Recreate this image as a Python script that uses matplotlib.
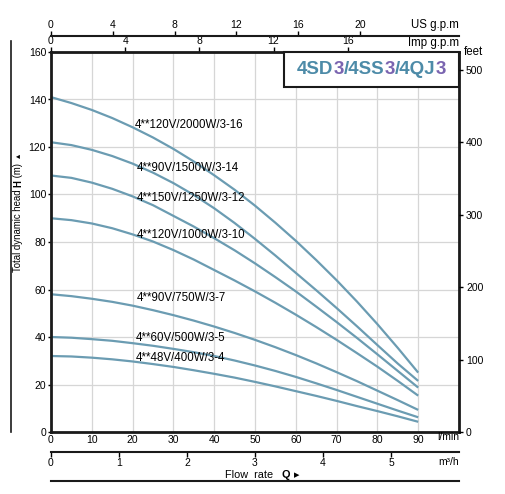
import matplotlib
matplotlib.use('Agg')
import matplotlib.pyplot as plt
from matplotlib.patches import Rectangle

plt.rcParams['font.family'] = ['Liberation Sans', 'DejaVu Sans']

# flow rate in l/min and head in m for each pump model
flow_lpm = [0, 5, 10, 15, 20, 25, 30, 35, 40, 45, 50, 55, 60, 65, 70, 75, 80, 85, 90]
head_3_16 = [141, 138.5, 135.6, 132.2, 128.3, 124, 119.2, 113.9, 108.1, 102, 95.3, 88.1,
             80.5, 72.4, 63.9, 54.9, 45.4, 35.4, 25]
head_3_14 = [122, 120.8, 118.8, 116.2, 113, 109.2, 104.8, 99.8, 94.2, 88, 81.3, 74.3,
             67, 59.7, 52.2, 44.5, 36.6, 28.8, 21.5]
head_3_12 = [108, 107, 105, 102.4, 99.2, 95.5, 91, 86.5, 81.6, 76.5, 71, 65.2,
             59.2, 52.8, 46.3, 39.6, 32.7, 25.7, 18.7]
head_3_10 = [90, 89.2, 87.8, 85.8, 83.2, 80.2, 76.6, 72.6, 68.2, 63.8, 59.2, 54.4,
             49.4, 44.2, 38.8, 33.2, 27.5, 21.5, 15.3]
head_3_7 = [58, 57.2, 56.1, 54.8, 53.2, 51.3, 49.2, 46.9, 44.4, 41.7, 38.8, 35.7,
            32.4, 28.9, 25.2, 21.4, 17.4, 13.4, 9.3]
head_3_5 = [40, 39.7, 39.1, 38.4, 37.4, 36.3, 35, 33.6, 32, 30.1, 28, 25.7,
            23.2, 20.5, 17.7, 14.8, 11.9, 9.0, 6.2]
head_3_4 = [32, 31.8, 31.3, 30.6, 29.7, 28.6, 27.4, 26, 24.5, 22.9, 21.1, 19.2,
            17.2, 15.2, 13.1, 10.9, 8.8, 6.6, 4.3]

models = ['4**120V/2000W/3-16', '4**90V/1500W/3-14', '4**150V/1250W/3-12',
          '4**120V/1000W/3-10', '4**90V/750W/3-7', '4**60V/500W/3-5',
          '4**48V/400W/3-4']
heads = [head_3_16, head_3_14, head_3_12, head_3_10, head_3_7, head_3_5, head_3_4]

# where the model labels sit (l/min, m)
label_pos = [(20.5, 129.3), (21, 111.2), (21, 98.5), (21, 83),
             (21, 56.3), (20.8, 39.5), (20.8, 31)]

us_ticks = [0, 4, 8, 12, 16, 20]
imp_ticks = [0, 4, 8, 12, 16]
m3h_ticks = [0, 1, 2, 3, 4, 5]
feet_ticks = [0, 100, 200, 300, 400, 500]

LINE = '#6b9cb2'
TEAL = '#4d8ba8'
PURPLE = '#7a64b0'
DARK = '#1a1a1a'
FS = 7.5

fig = plt.figure(figsize=(5.06, 4.94), dpi=100)
ax = fig.add_axes([51/506, 62/494, 408/506, 380/494])
ax.set_xlim(0, 100)
ax.set_ylim(0, 160)
ax.set_xticks(range(0, 100, 10))
ax.set_yticks(range(0, 161, 20))
ax.grid(color='#d6d6d6', lw=0.9)
ax.set_axisbelow(True)
for sp in ax.spines.values():
    sp.set_linewidth(2)
    sp.set_color(DARK)
ax.tick_params(axis='y', length=2.5, width=1, pad=1, labelsize=FS)
ax.tick_params(axis='x', length=0, pad=2.5, labelsize=FS)

for name, h, (lx, ly) in zip(models, heads, label_pos):
    ax.plot(flow_lpm, h, color=LINE, lw=1.6, solid_capstyle='butt')
    ax.text(lx, ly, name, fontsize=8.3, va='center', ha='left')

# right axis in feet
ax2 = ax.twinx()
ax2.set_ylim(0, 160 / 0.3048)
ax2.set_yticks(feet_ticks)
for sp in ax2.spines.values():
    sp.set_visible(False)
ax2.tick_params(axis='y', length=3, width=1, pad=2, labelsize=FS)
ax.text(1.012, 1.0, 'feet', transform=ax.transAxes, ha='left', va='center', fontsize=8.3)

# top axes: Imp and US gallons per minute
imp = ax.secondary_xaxis('top', functions=(lambda q: q / 4.54609, lambda g: g * 4.54609))
imp.set_xticks(imp_ticks)
imp.tick_params(length=3.5, width=1, pad=1, labelsize=FS)
us = ax.secondary_xaxis(1 + 16/380, functions=(lambda q: q / 3.78541, lambda g: g * 3.78541))
us.set_xticks(us_ticks)
us.tick_params(length=3.5, width=1, pad=1, labelsize=FS)
for sp in us.spines.values():
    sp.set_linewidth(1.5)
    sp.set_color(DARK)
ax.text(1.0, (432-25)/380, 'US g.p.m', transform=ax.transAxes, ha='right', va='center', fontsize=8.3)
ax.text(1.0, (432-43)/380, 'Imp g.p.m', transform=ax.transAxes, ha='right', va='center', fontsize=8.3)

# bottom axis in m3/h
m3 = ax.secondary_xaxis(-20/380, functions=(lambda q: q * 0.06, lambda m: m / 0.06))
m3.set_xticks(m3h_ticks)
m3.tick_params(length=3.5, width=1, pad=0.5, labelsize=FS)
for sp in m3.spines.values():
    sp.set_linewidth(1.5)
    sp.set_color(DARK)
ax.text(1.0, -0.013, 'l/min', transform=ax.transAxes, ha='right', va='center', fontsize=FS)
ax.text(1.0, -0.079, 'm³/h', transform=ax.transAxes, ha='right', va='center', fontsize=FS)

t = ax.text(0.4265, -0.113, 'Flow  rate   ', transform=ax.transAxes, ha='left', va='center', fontsize=7.8)
t = ax.annotate('Q ', xy=(1, 0), xycoords=t, ha='left', va='bottom', fontsize=7.8, fontweight='bold')
ax.annotate('▸', xy=(1, 0), xycoords=t, ha='left', va='bottom', fontsize=7.8, family=['DejaVu Sans'])
ax.plot([0, 1], [-49/380, -49/380], transform=ax.transAxes, color=DARK, lw=1.5, clip_on=False)

# left frame line and y label
ax.plot([-40/408, -40/408], [0, 391/380], transform=ax.transAxes, color=DARK, lw=1.2, clip_on=False)
t = ax.text(-33/408, 0.421, 'Total dynamic head ', transform=ax.transAxes, rotation=90,
            ha='center', va='bottom', fontsize=6.9)
t = ax.annotate('H', xy=(0.5, 1), xycoords=t, rotation=90, ha='center', va='bottom',
                fontsize=6.9, fontweight='bold')
t = ax.annotate(' (m)  ', xy=(0.5, 1), xycoords=t, rotation=90, ha='center', va='bottom', fontsize=6.9)
ax.annotate('▴', xy=(0.5, 1), xycoords=t, rotation=90, ha='center', va='bottom',
            fontsize=6, family=['DejaVu Sans'])

# title box
ax.add_patch(Rectangle((233/408, 345/380), 175/408, 35/380, transform=ax.transAxes,
                       fc='white', ec=DARK, lw=1.5, zorder=3, clip_on=False))
pieces = [('4SD', TEAL), ('3', PURPLE), ('/4SS', TEAL), ('3', PURPLE), ('/4QJ', TEAL), ('3', PURPLE)]
t = ax.text(246/408, 362/380, pieces[0][0], transform=ax.transAxes, color=pieces[0][1],
            fontsize=13.5, fontweight='bold', ha='left', va='center', zorder=4)
for txt, col in pieces[1:]:
    t = ax.annotate(txt, xy=(1, 0), xycoords=t, ha='left', va='bottom', color=col,
                    fontsize=13.5, fontweight='bold', zorder=4)

fig.savefig('out.png', dpi=100)
